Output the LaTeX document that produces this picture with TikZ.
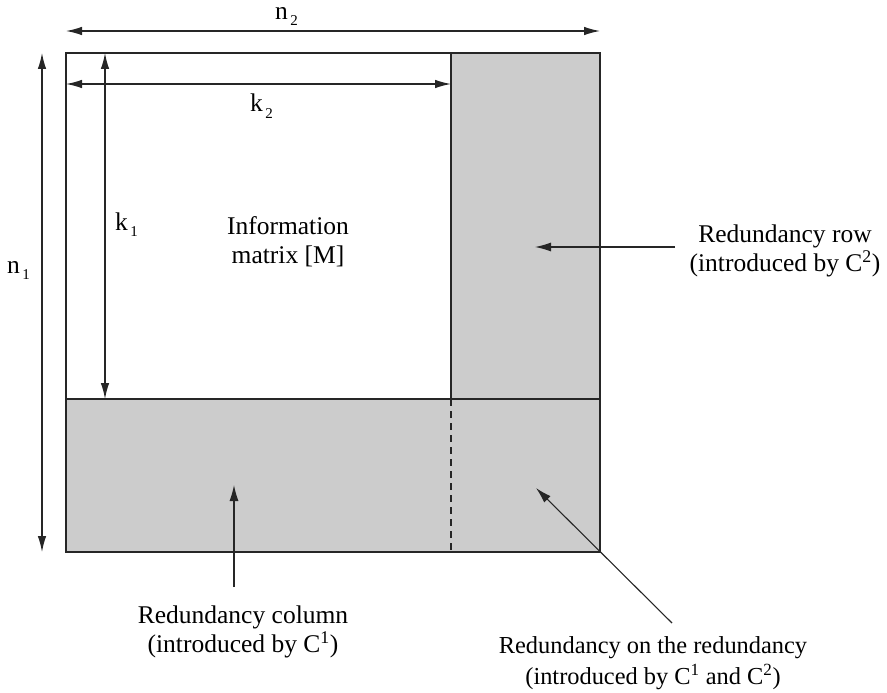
\documentclass[tikz,border=0pt]{standalone}
\usepackage{fontspec}
\setmainfont{Liberation Serif}
\usetikzlibrary{arrows.meta}
\begin{document}
\begin{tikzpicture}[x=1pt,y=-1pt,
  part/.style={draw=black!85,line width=1.5pt},
  redund/.style={fill=black!20},
  dimarrow/.style={line width=1.2pt,black!85,{Latex[length=16pt,width=8.5pt]}-{Latex[length=16pt,width=8.5pt]}},
  pointer/.style={line width=1.1pt,black!85,-{Latex[length=16pt,width=9pt]}},
  caption/.style={font=\fontsize{25.5}{29}\selectfont,align=center,inner sep=0pt},
  dimlabel/.style={font=\fontsize{25.5}{29}\selectfont,anchor=base west,inner sep=0pt}]
\newcommand{\idx}[2]{#1\kern2.5pt\raisebox{-6pt}{\fontsize{15}{15}\selectfont #2}}
\useasboundingbox (0,0) rectangle (887,693);

% corners of the coded block
\coordinate (tl) at (66,53);
\coordinate (tr) at (600,53);
\coordinate (bl) at (66,552);
\coordinate (br) at (600,552);
\coordinate (km) at (451,399);

% redundancy regions
\fill[redund] (451,53) rectangle (600,399);
\fill[redund] (66,399) rectangle (600,552);

% outline and partition
\draw[part] (tl) rectangle (br);
\draw[part] (451,53) -- (km);
\draw[part] (66,399) -- (600,399);
\draw[line width=1.3pt,black!85,dash pattern=on 7pt off 5pt] (km) -- (451,552);

% dimension arrows
\coordinate (n2a) at (66,31);
\coordinate (n2b) at (600,31);
\coordinate (k2a) at (66,84);
\coordinate (k2b) at (451,84);
\coordinate (n1a) at (42,53);
\coordinate (n1b) at (42,552);
\coordinate (k1a) at (105,53);
\coordinate (k1b) at (105,399);
\draw[dimarrow] (n2a) -- (n2b);
\draw[dimarrow] (k2a) -- (k2b);
\draw[dimarrow] (n1a) -- (n1b);
\draw[dimarrow] (k1a) -- (k1b);

\node[dimlabel] (ln2) at (275,19.5) {\idx{n}{2}};
\node[dimlabel] (lk2) at (250,112) {\idx{k}{2}};
\node[dimlabel] (lk1) at (115,230) {\idx{k}{1}};
\node[dimlabel] (ln1) at (7,273) {\idx{n}{1}};

% captions
\node[caption] (info) at (288,242) {Information\\matrix [M]};
\node[caption] (row) at (785,251) {Redundancy row\\(introduced by C\textsuperscript{2})};
\node[caption] (col) at (243,632) {Redundancy column\\(introduced by C\textsuperscript{1})};
\node[caption,font=\fontsize{24.4}{30.5}\selectfont] (rr) at (653,663) {Redundancy on the redundancy\\(introduced by C\textsuperscript{1} and C\textsuperscript{2})};

% pointers
\coordinate (rowtail) at (675,247);
\coordinate (rowtip) at (535,247);
\coordinate (coltail) at (234,587);
\coordinate (coltip) at (234,485);
\coordinate (rrtail) at (672,623);
\coordinate (rrtip) at (536,488);
\draw[pointer] (rowtail) -- (rowtip);
\draw[pointer] (coltail) -- (coltip);
\draw[pointer] (rrtail) -- (rrtip);
\end{tikzpicture}
\end{document}
